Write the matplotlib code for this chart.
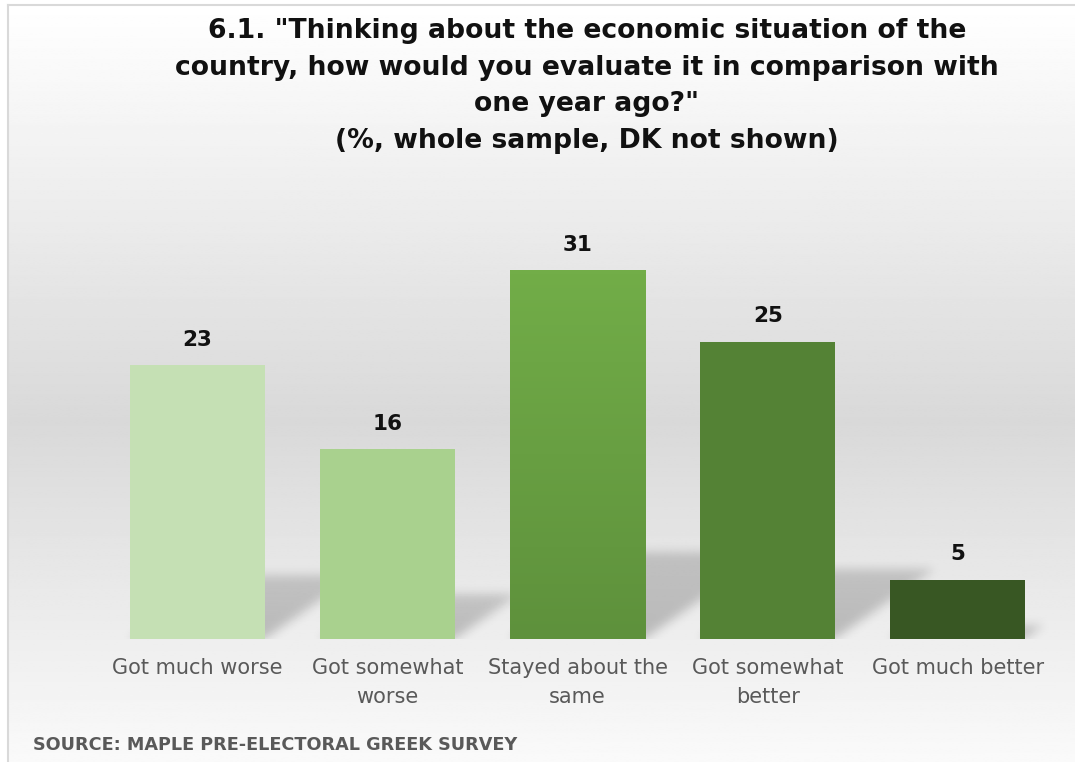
import matplotlib

matplotlib.use("Agg")
import matplotlib.pyplot as plt
import numpy as np
from matplotlib.colors import to_rgb

# data
categories = [
    "Got much worse",
    "Got somewhat\nworse",
    "Stayed about the\nsame",
    "Got somewhat\nbetter",
    "Got much better",
]
values = [23, 16, 31, 25, 5]
bar_colors = ["#C5E0B4", "#A9D18E", "#70AD47", "#548235", "#385723"]
title = (
    '6.1. "Thinking about the economic situation of the\n'
    "country, how would you evaluate it in comparison with\n"
    'one year ago?"\n'
    "(%, whole sample, DK not shown)"
)
source = "SOURCE: MAPLE PRE-ELECTORAL GREEK SURVEY"

W, H = 1075, 762
PX_PER_UNIT = 11.9
BASE_Y = 639
TOP_Y = 200
BAR_W = 0.71

fig = plt.figure(figsize=(W / 100, H / 100), dpi=100)

# background: white -> grey -> white vertical gradient, plus thin frame
bg = fig.add_axes([0, 0, 1, 1], zorder=-2)
bg.set_xlim(0, W)
bg.set_ylim(H, 0)
bg.axis("off")
yy = np.linspace(0, 1, 400)
shade = np.interp(yy, [0.0, 0.55, 1.0], [1.0, 0.85, 0.98])
grad = np.repeat(shade[:, None], 2, axis=1)
bg.imshow(grad, cmap="gray", vmin=0, vmax=1, extent=(8, W, H, 5), aspect="auto")
bg.plot([8, W], [5, 5], color="#D9D9D9", lw=1.5)
bg.plot([8, 8], [5, H], color="#D9D9D9", lw=1.5)

ax = fig.add_axes(
    [102 / W, (H - BASE_Y) / H, 951 / W, (BASE_Y - TOP_Y) / H]
)
ax.set_xlim(-0.5, 4.5)
ax.set_ylim(0, (BASE_Y - TOP_Y) / PX_PER_UNIT)
ax.patch.set_alpha(0)
for spine in ax.spines.values():
    spine.set_visible(False)

# soft perspective shadows behind the bars (bar squashed and skewed right)
nx, ny = 951, 160
ymax_sh = ny / PX_PER_UNIT
gx = np.linspace(-0.5, 4.5, nx)
gy = np.linspace(0, ymax_sh, ny)
X, Y = np.meshgrid(gx, gy)
alpha = np.zeros_like(X)
for i, v in enumerate(values):
    hs = 0.235 * v
    sk = 0.021 * v
    t = Y / hs
    inside = (Y <= hs) & (X >= i - BAR_W / 2 + sk * t) & (X <= i + BAR_W / 2 + sk * t)
    alpha = np.maximum(alpha, inside * (1 - 0.25 * np.clip(t, 0, 1)))
kern = np.exp(-0.5 * (np.arange(-16, 17) / 5.0) ** 2)
kern /= kern.sum()
alpha = np.apply_along_axis(lambda r: np.convolve(r, kern, mode="same"), 1, alpha)
alpha = np.apply_along_axis(lambda c: np.convolve(c, kern, mode="same"), 0, alpha)
rgba = np.zeros((ny, nx, 4))
rgba[..., 3] = alpha * 0.22
ax.imshow(
    rgba,
    extent=(-0.5, 4.5, 0, ymax_sh),
    origin="lower",
    aspect="auto",
    zorder=1,
)

bars = ax.bar(range(len(values)), values, width=BAR_W, color=bar_colors, zorder=2)

# the middle bar carries a light top-to-bottom gradient
top_c = np.array(to_rgb("#72AD48"))
bot_c = np.array(to_rgb("#5E913C"))
ramp = np.linspace(0, 1, 100)[:, None]
bar_grad = (top_c * (1 - ramp) + bot_c * ramp)[:, None, :].repeat(2, axis=1)
b = bars[2]
ax.imshow(
    bar_grad,
    extent=(b.get_x(), b.get_x() + b.get_width(), 0, b.get_height()),
    aspect="auto",
    zorder=3,
)

for i, v in enumerate(values):
    ax.text(
        i, v + 25 / PX_PER_UNIT, str(v),
        ha="center", va="center", fontsize=15.5, fontweight="bold", color="#111111",
    )

ax.set_xlim(-0.5, 4.5)
ax.set_ylim(0, (BASE_Y - TOP_Y) / PX_PER_UNIT)
ax.set_yticks([])
ax.set_xticks(range(len(categories)))
ax.set_xticklabels(categories, fontsize=15, color="#595959", linespacing=1.55)
ax.tick_params(axis="x", length=0, pad=14)

fig.text(
    587 / W, 1 - 86 / H, title,
    ha="center", va="center", multialignment="center",
    fontsize=19.2, fontweight="bold", color="#111111", linespacing=1.52,
)
fig.text(
    33 / W, 1 - 745 / H, source,
    ha="left", va="center", fontsize=12.7, fontweight="bold", color="#595959",
)

fig.savefig("out.png", dpi=100)
